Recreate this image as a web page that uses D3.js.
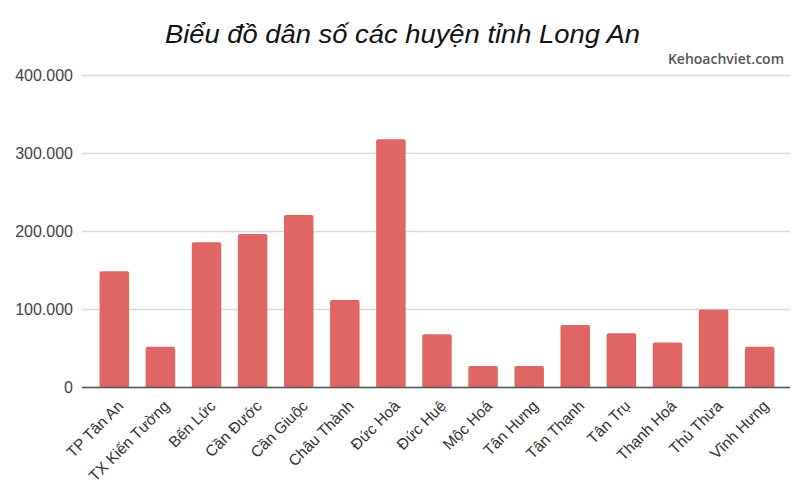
<!DOCTYPE html>
<html><head><meta charset="utf-8">
<script src="https://cdn.jsdelivr.net/npm/d3@7"></script>
<style>body{margin:0;background:#fff}</style>
</head><body>
<svg id="c" width="800" height="500"></svg>
<script>
const categories = ["TP Tân An","TX Kiến Tường","Bến Lức","Cần Đước","Cần Giuộc","Châu Thành","Đức Hoà","Đức Huệ","Mộc Hoá","Tân Hưng","Tân Thạnh","Tân Trụ","Thạnh Hoá","Thủ Thừa","Vĩnh Hưng"];
const population = [148500,51500,185500,196000,220500,111500,317500,67500,27000,27000,79500,69000,57000,99500,51500];
const yTicks = [0,100000,200000,300000,400000];
const title = "Biểu đồ dân số các huyện tỉnh Long An";
const watermark = "Kehoachviet.com";

(function () {
const svg = d3.select("#c");
const mLeft = 82, mRight = 790, mTop = 75, mBottom = 387;
const x = d3.scaleBand().domain(categories).range([mLeft + 1, mRight + 1]).paddingInner(0.36).paddingOuter(0.36);
const y = d3.scaleLinear().domain([0, 400000]).range([mBottom, mTop]);
const fmt = v => d3.format(",")(v).replace(/,/g, ".");

svg.append("text").attr("x", 402.5).attr("y", 43).attr("text-anchor", "middle")
  .attr("font-family", "Liberation Sans, Arial, sans-serif").attr("font-style", "italic")
  .attr("font-size", 25.5).attr("fill", "#111")
  .attr("textLength", 475).attr("lengthAdjust", "spacingAndGlyphs").text(title);
svg.append("text").attr("x", 784).attr("y", 64).attr("text-anchor", "end")
  .attr("font-family", "Open Sans, sans-serif").attr("font-weight", 600)
  .attr("font-size", 14).attr("fill", "#555").text(watermark);

const yAxis = d3.axisLeft(y).tickValues(yTicks).tickFormat(fmt).tickSize(-(mRight - mLeft)).tickPadding(9);
const gy = svg.append("g").attr("transform", `translate(${mLeft},0)`).call(yAxis);
gy.select(".domain").remove();
gy.selectAll(".tick line").attr("stroke", "#d9d9d9").attr("stroke-width", 1.3);
gy.selectAll(".tick text").attr("font-family", "Liberation Sans, Arial, sans-serif").attr("font-size", 16).attr("fill", "#444");

svg.append("g").selectAll("path").data(categories).join("path")
  .attr("fill", "#e06666")
  .attr("d", (d, i) => {
    const x0 = x(d), w = x.bandwidth(), y0 = y(population[i]), r = 2;
    return `M${x0},${mBottom}V${y0 + r}Q${x0},${y0} ${x0 + r},${y0}H${x0 + w - r}Q${x0 + w},${y0} ${x0 + w},${y0 + r}V${mBottom}Z`;
  });

const xAxis = d3.axisBottom(x).tickSize(0).tickPadding(0);
const gx = svg.append("g").attr("transform", `translate(0,${mBottom})`).call(xAxis);
gx.select(".domain").attr("stroke", "#555").attr("stroke-width", 1.3).attr("d", `M${mLeft},0.5H${mRight}`);
gx.selectAll(".tick text")
  .attr("font-family", "Liberation Sans, Arial, sans-serif").attr("font-size", 15.5).attr("fill", "#333")
  .attr("text-anchor", "end").attr("dy", 0)
  .attr("transform", "translate(10,20) rotate(-45)");
})();
</script>
</body></html>
